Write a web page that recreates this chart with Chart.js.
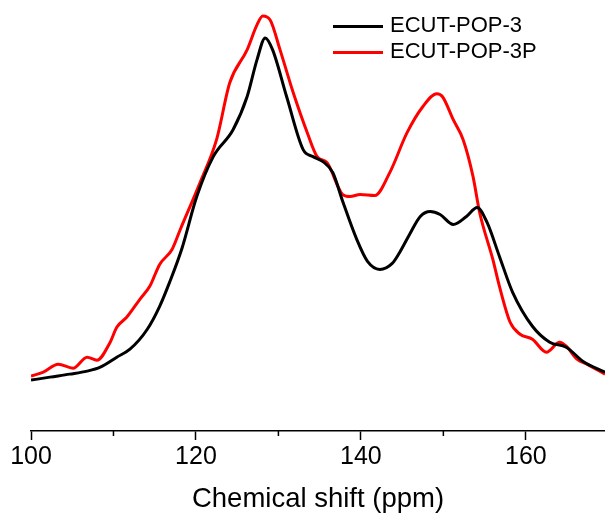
<!DOCTYPE html>
<html>
<head>
<meta charset="utf-8">
<script src="https://cdn.jsdelivr.net/npm/chart.js@4.4.1/dist/chart.umd.min.js"></script>
<style>
  html, body { margin: 0; padding: 0; background: #fff; }
  #wrap { position: relative; width: 605px; height: 520px; }
  .leg { position: absolute; left: 333px; font: 22px "Liberation Sans", Arial, sans-serif; color: #000; line-height: 22px; }
  .leg span { display: inline-block; width: 50px; height: 3px; vertical-align: middle; margin-right: 7px; }
</style>
</head>
<body>
<div id="wrap">
  <canvas id="nmrChart" width="605" height="520"></canvas>
  <div class="leg" id="leg1" style="top:14px"><span style="background:#000"></span>ECUT-POP-3</div>
  <div class="leg" id="leg2" style="top:40px"><span style="background:#ff0000"></span>ECUT-POP-3P</div>
</div>
<script>
// chemical shift (ppm) and intensity (a.u.)
const shiftPop3 = [100.0, 102.3, 104.7, 106.8, 108.4, 110.4, 112.0, 114.1, 115.6, 116.8, 118.3, 120.1, 122.1, 124.5, 126.2, 127.4, 128.4, 129.3, 131.0, 133.0, 134.2, 135.4, 136.6, 137.8, 139.5, 140.8, 142.3, 143.8, 144.7, 145.9, 147.2, 148.4, 149.6, 151.2, 152.8, 154.1, 155.3, 156.8, 158.4, 160.8, 162.9, 164.9, 166.9, 169.6];
const intPop3 = [51, 54, 57, 60, 64, 74, 82, 102, 125, 149, 183, 235, 275, 302, 335, 372, 394, 382, 335, 282, 275, 270, 259, 230, 192, 170, 162, 168, 179, 197, 215, 220, 217, 207, 215, 224, 209, 175, 139, 105, 89, 84, 70, 59];

const shiftPop3P = [100.0, 101.5, 103.3, 105.1, 106.8, 108.0, 109.6, 110.4, 111.6, 113.2, 114.4, 115.6, 117.1, 118.1, 120.5, 122.5, 124.1, 126.2, 127.4, 128.1, 129.0, 130.2, 131.8, 133.5, 134.7, 135.9, 137.8, 138.7, 139.9, 141.7, 143.5, 145.6, 147.5, 149.2, 149.9, 151.2, 152.4, 153.6, 154.4, 156.0, 156.8, 158.1, 159.3, 160.8, 162.5, 164.1, 164.9, 166.2, 167.4, 169.6];
const intPop3P = [55, 59, 67, 63, 74, 71, 89, 104, 114, 132, 145, 167, 182, 202, 249, 292, 349, 382, 407, 416, 412, 382, 339, 299, 275, 269, 237, 235, 237, 236, 259, 299, 325, 338, 335, 312, 292, 255, 219, 172, 145, 109, 97, 92, 79, 89, 85, 72, 67, 57];

const majorTicks = [100, 120, 140, 160];
const minorTicks = [110, 130, 150];

const toPoints = (xs, ys) => xs.map((x, i) => ({ x: x, y: ys[i] }));

// small minor tick marks under the axis line
const minorTickPlugin = {
  id: "minorTicks",
  afterDraw(chart) {
    const xs = chart.scales.x;
    const ctx = chart.ctx;
    const y0 = chart.chartArea.bottom;
    ctx.save();
    ctx.strokeStyle = "#000";
    ctx.lineWidth = 1.5;
    minorTicks.forEach((v) => {
      const px = xs.getPixelForValue(v);
      ctx.beginPath();
      ctx.moveTo(px, y0);
      ctx.lineTo(px, y0 + 5);
      ctx.stroke();
    });
    ctx.restore();
  },
};

const font = "'Liberation Sans', Arial, sans-serif";

const ctx = document.getElementById("nmrChart").getContext("2d");
new Chart(ctx, {
  type: "line",
  data: {
    datasets: [
      {
        label: "ECUT-POP-3",
        data: toPoints(shiftPop3, intPop3),
        borderColor: "#000000",
        borderWidth: 3,
        pointRadius: 0,
        cubicInterpolationMode: "monotone",
        fill: false,
      },
      {
        label: "ECUT-POP-3P",
        data: toPoints(shiftPop3P, intPop3P),
        borderColor: "#ff0000",
        borderWidth: 3,
        pointRadius: 0,
        cubicInterpolationMode: "monotone",
        fill: false,
      },
    ],
  },
  options: {
    responsive: false,
    animation: false,
    layout: { padding: { left: 31, right: 0, top: 0, bottom: 0 } },
    plugins: {
      legend: { display: false },
      tooltip: { enabled: false },
    },
    scales: {
      x: {
        type: "linear",
        min: 100,
        max: 169.6,
        afterBuildTicks: (scale) => {
          scale.ticks = majorTicks.map((v) => ({ value: v }));
        },
        ticks: {
          color: "#000",
          padding: 2,
          maxRotation: 0,
          font: { family: font, size: 25 },
        },
        grid: {
          drawOnChartArea: false,
          drawTicks: true,
          tickLength: 9,
          tickColor: "#000",
          tickWidth: 1.5,
        },
        border: { display: true, color: "#000", width: 1.5 },
        title: {
          display: true,
          text: "Chemical shift (ppm)",
          color: "#000",
          padding: { top: 9, bottom: 4 },
          font: { family: font, size: 27.5 },
        },
      },
      y: {
        display: false,
        min: 0,
        max: 432,
      },
    },
  },
  plugins: [minorTickPlugin],
});
</script>
</body>
</html>
